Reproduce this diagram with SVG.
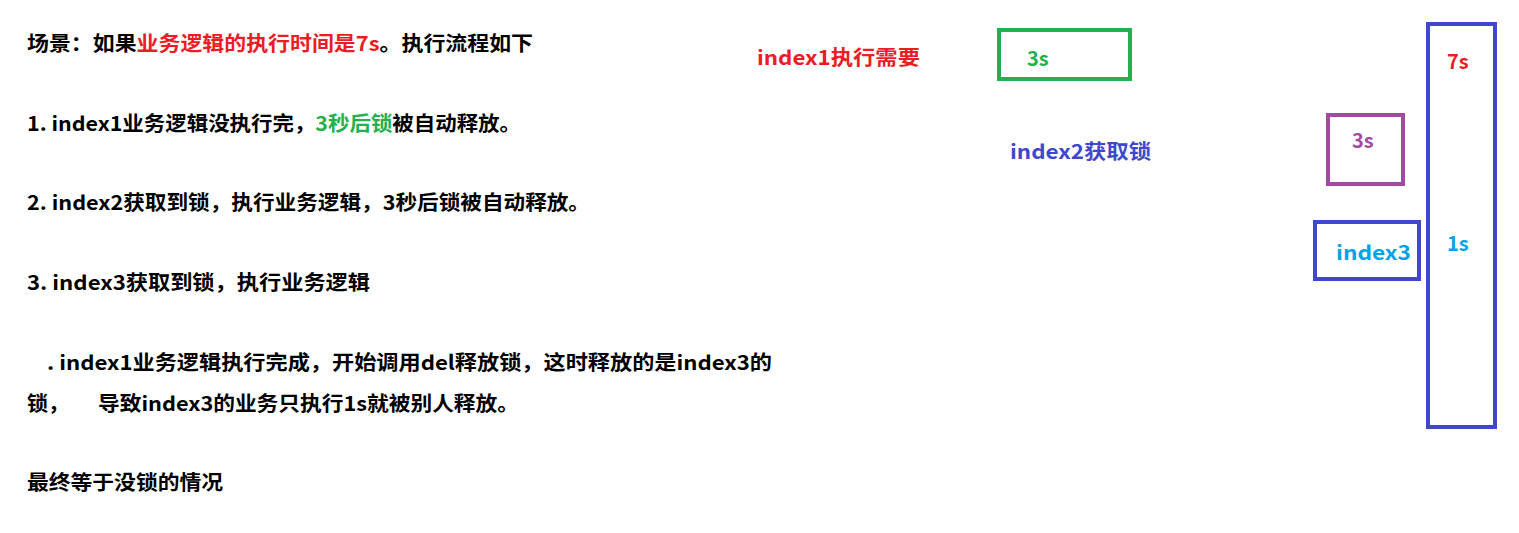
<svg xmlns="http://www.w3.org/2000/svg" width="1519" height="533" viewBox="0 0 1519 533">
<style>
  text { font-family: "Microsoft YaHei", "Noto Sans CJK SC", "Noto Sans", sans-serif; font-weight: bold; font-size: 20px; }
  .k { fill: #000000; }
  .r { fill: #ed1c24; }
  .g { fill: #22b14c; }
  .b { fill: #3f48cc; }
  .p { fill: #a349a4; }
  .t { fill: #00a2e8; }
  .box { fill: none; stroke-width: 4; }
</style>
<rect width="1519" height="533" fill="#ffffff"/>
<g id="notes">
  <text x="27" y="51" class="k" textLength="506" lengthAdjust="spacingAndGlyphs">场景：如果<tspan class="r">业务逻辑的执行时间是7s</tspan>。执行流程如下</text>
  <text x="27" y="131" class="k" textLength="494" lengthAdjust="spacingAndGlyphs">1. index1业务逻辑没执行完，<tspan class="g">3秒后锁</tspan>被自动释放。</text>
  <text x="27" y="210" class="k" textLength="563" lengthAdjust="spacingAndGlyphs">2. index2获取到锁，执行业务逻辑，3秒后锁被自动释放。</text>
  <text x="27" y="290" class="k" textLength="343" lengthAdjust="spacingAndGlyphs">3. index3获取到锁，执行业务逻辑</text>
  <text x="47" y="370" class="k" textLength="725" lengthAdjust="spacingAndGlyphs">. index1业务逻辑执行完成，开始调用del释放锁，这时释放的是index3的</text>
  <text x="27" y="411" class="k" textLength="42" lengthAdjust="spacingAndGlyphs">锁，</text>
  <text x="98" y="411" class="k" textLength="421" lengthAdjust="spacingAndGlyphs">导致index3的业务只执行1s就被别人释放。</text>
  <text x="27" y="490" class="k" textLength="196" lengthAdjust="spacingAndGlyphs">最终等于没锁的情况</text>
</g>
<g id="index1-label">
  <text x="757" y="65" class="r" textLength="163" lengthAdjust="spacingAndGlyphs">index1执行需要</text>
</g>
<g id="index1-box">
  <rect x="999" y="30" width="131" height="49" class="box" stroke="#22b14c"/>
  <text x="1027" y="66" class="g">3s</text>
</g>
<g id="index2-label">
  <text x="1010" y="159" class="b" textLength="141" lengthAdjust="spacingAndGlyphs">index2获取锁</text>
</g>
<g id="index2-box">
  <rect x="1328" y="115" width="75" height="69" class="box" stroke="#a349a4"/>
  <text x="1352" y="148" class="p">3s</text>
</g>
<g id="index3-box">
  <rect x="1315" y="222" width="104" height="57" class="box" stroke="#3f48cc"/>
  <text x="1336" y="260" class="t" textLength="75" lengthAdjust="spacingAndGlyphs">index3</text>
</g>
<g id="timeline-box">
  <rect x="1428" y="24" width="67" height="403" class="box" stroke="#3f48cc"/>
  <text x="1447" y="69" class="r">7s</text>
  <text x="1447" y="251" class="t">1s</text>
</g>
<g id="connectors"/>
</svg>
